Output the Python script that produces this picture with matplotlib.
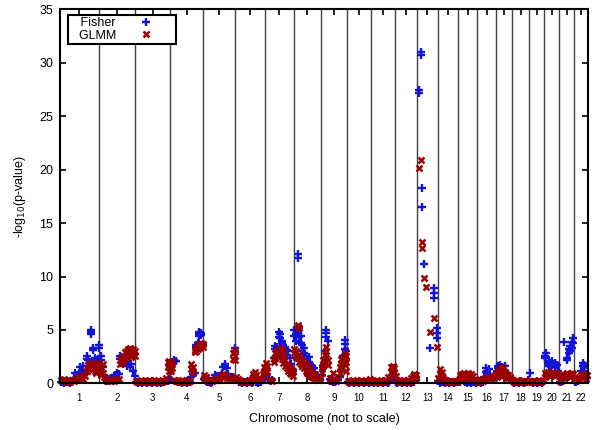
import matplotlib
matplotlib.use("Agg")
import matplotlib.pyplot as plt
import numpy as np

plt.rcParams['font.family'] = ['Liberation Sans', 'DejaVu Sans']

# Chromosome labels and their (not to scale) display widths
chromosomes = [str(i) for i in range(1, 23)]
chrom_widths = [38.7, 36.6, 34.7, 33.3, 32.0, 29.7, 28.7, 27.0, 26.3, 24.3, 23.7,
                21.7, 21.0, 20.3, 19.0, 19.0, 16.0, 17.0, 15.0, 15.0, 15.0, 14.0]

# -log10(p) values per chromosome, evenly spaced SNP slots
# (a slot may hold several values or None when empty)
N = None
fisher_vals = [
    # 1
    [0.1, 0.1, 0.0, 0.1, 0.2, 0.1, 0.0, 0.1, 0.5, 1.0, 0.8, 1.0, 1.5, 1.2, 1.6, 1.0,
     [2.6, 2.3], 2.2, 2.0, [4.6, 5.0, 4.8], [3.3, 3.1], 2.4, [2.2, 2.0], 1.8],
    # 2
    [[3.6, 3.3], [2.2, 2.6], 1.5, 0.8, 0.3, 0.2, 0.4, 0.5, 0.3, 0.6, 0.8, 1.0, 0.9,
     [2.6, 2.3], 2.0, 1.8, 2.2, 1.6, 2.0, 1.5, 1.8, 1.2, 0.7],
    # 3
    [0.1, 0.0, 0.1, 0.1, 0.0, 0.1, 0.1, 0.0, 0.1, 0.1, 0.0, 0.1, 0.1, 0.0, 0.1, 0.1,
     0.0, 0.1, 0.1, 0.2, 0.2, 0.4],
    # 4
    [0.3, 2.0, [2.2, 2.0], 2.1, 0.2, 0.1, 0.1, 0.0, 0.1, 0.1, 0.0, 0.1, 0.1, 0.6, 0.9,
     1.0, [3.4, 3.6], [3.8, 3.5], [4.6, 4.8, 4.4], [4.7, 4.5], 3.7],
    # 5
    [0.4, 0.2, 0.1, 0.1, 0.0, 0.1, 0.5, 0.8, 0.7, 0.3, 0.5, 1.0, 1.5, [1.8, 1.6], 1.4,
     0.9, 0.5, 0.3, 0.6, [3.3, 3.0]],
    # 6
    [0.4, 0.3, 0.1, 0.1, 0.0, 0.1, 0.1, 0.0, 0.1, 0.1, 0.0, 0.1, 0.3, 0.1, 0.0, 0.1,
     0.1, 0.4, 0.6],
    # 7
    [0.6, 0.9, 0.4, 0.2, 0.3, 2.4, [3.2, 3.5], [3.4, 3.0], [4.3, 4.8], [4.6, 4.2],
     [4.0, 3.8], [3.6, 3.2], [3.4, 2.9], [3.1, 2.7], 3.0, 2.4, 1.8, 1.2],
    # 8
    [[4.4, 5.0], [4.0, 4.6], [11.7, 12.1, 4.8], [4.3, 5.2], [3.8, 4.4], [3.6, 3.0],
     [3.3, 2.8], 2.6, 2.3, [2.5, 2.0], 1.8, 1.6, 1.4, 1.0, 0.8, 0.6, 0.4],
    # 9
    [0.8, 1.5, [2.4, 3.0], [4.3, 4.7, 5.0], 4.0, 0.4, 0.2, 0.1, 0.1, 0.2, 0.3, 0.6,
     1.2, [2.0, 2.6], [3.2, 3.7, 4.1], [3.0, 2.3]],
    # 10
    [0.1, 0.0, 0.1, 0.1, 0.0, 0.1, 0.1, 0.0, 0.1, 0.1, 0.0, 0.1, 0.1, 0.0, 0.1],
    # 11
    [0.1, 0.0, 0.1, 0.1, 0.0, 0.1, 0.1, 0.0, 0.1, 0.1, 0.0, 0.1, 0.3, 0.6, 0.8],
    # 12
    [0.1, 0.0, 0.1, 0.1, 0.0, 0.1, 0.1, 0.0, 0.1, 0.1, 0.0, 0.1, 0.1, 0.3],
    # 13
    [N, [27.2, 27.5], [30.7, 31.0], [18.3, 16.5], 11.2, N, N, N, 3.3, N,
     [8.0, 8.5, 8.9], N, [4.2, 4.7, 5.2]],
    # 14
    [0.2, 0.0, 0.1, 0.1, 0.0, 0.1, 0.1, 0.0, 0.1, 0.1, 0.0, 0.1, 0.1],
    # 15
    [0.1, 0.1, 0.3, 0.2, 0.1, 0.0, 0.1, 0.1, 0.0, 0.1, 0.1, 0.0],
    # 16
    [0.1, 0.1, 0.0, 0.1, 0.6, [1.4, 1.1], [1.2, 1.0], 1.3, 0.8, 0.4, 0.3, 0.6],
    # 17
    [1.2, [1.6, 1.4], [1.7, 1.5], 1.5, 1.3, 1.6, 1.0, 0.6, 0.4, 0.3],
    # 18
    [0.1, 0.0, 0.1, 0.1, 0.0, 0.1, 0.1, 0.0, 0.1, 0.1, 0.3],
    # 19
    [1.0, 0.1, 0.0, 0.1, 0.1, 0.0, 0.1, 0.1, 0.0, 0.1],
    # 20
    [[2.6, 2.4], [2.8, 2.5], 1.8, [2.0, 1.6], [1.9, 1.5], [2.1, 1.7], 1.8, [1.9, 1.5],
     1.7, 1.2],
    # 21
    [0.1, 0.1, 0.3, 3.9, 0.8, [2.4, 2.2], [2.8, 3.2], [3.5, 3.0], [3.9, 3.3], [4.2, 3.8]],
    # 22
    [0.1, 0.1, 0.2, 0.4, 1.2, [1.9, 1.6], [1.7, 1.4], 0.9, 0.5],
]

glmm_vals = [
    # 1
    [0.3, 0.2, 0.4, 0.2, 0.3, 0.1, 0.2, 0.3, 0.2, 0.4, 0.3, 0.6, 0.5, 0.8, 0.4, 0.7,
     1.2, [1.4, 1.7], [1.6, 1.8], [1.5, 1.9], [1.3, 1.7], 1.2, [1.0, 1.5], 1.8],
    # 2
    [[1.9, 1.2], [1.5, 0.8], [1.8, 1.0], 0.6, 0.3, 0.2, 0.3, 0.2, 0.3, 0.2, 0.4, 0.3,
     0.4, [1.8, 2.2], [2.5, 1.9], [2.6, 2.2], [2.9, 2.4], [3.0, 2.6], [3.2, 2.7],
     [3.3, 2.9], [3.1, 2.5], [3.2, 2.8], [3.0, 2.6]],
    # 3
    [0.2, 0.1, 0.2, 0.3, 0.1, 0.2, 0.2, 0.1, 0.3, 0.2, 0.1, 0.2, 0.2, 0.1, 0.3, 0.2,
     0.1, 0.2, 0.2, 0.5, [1.5, 2.0], [2.1, 1.7, 1.2]],
    # 4
    [[2.0, 1.5, 1.2], [1.8, 1.4], 0.3, 0.2, 0.2, 0.1, 0.2, 0.3, 0.1, 0.2, 0.2, 0.1,
     0.2, [1.8, 1.3], [1.5, 1.0], [3.1, 2.9], [3.3, 3.0], [3.5, 3.2], [3.6, 3.3],
     [3.8, 3.5], [3.7, 3.4]],
    # 5
    [[0.8, 0.5], [0.6, 0.4], 0.3, 0.2, 0.3, 0.2, 0.3, 0.4, 0.3, 0.4, 0.6, 0.8, 0.9,
     0.7, 0.5, 0.6, 0.4, 0.3, [2.3, 2.8], [3.1, 2.6, 2.2]],
    # 6
    [0.6, 0.4, 0.3, 0.2, 0.1, 0.2, 0.2, 0.1, 0.3, 0.2, 0.4, [0.9, 0.6], [1.1, 0.7],
     [0.8, 0.5], 0.4, 0.3, 0.3, 0.9, [1.5, 1.1]],
    # 7
    [[1.9, 1.4], [1.6, 1.1], 0.3, 0.3, 0.2, [2.3, 2.0], [2.8, 2.4], [3.1, 2.6],
     [3.0, 2.6], [2.8, 3.3], [2.7, 3.1, 2.3], [2.5, 2.9, 1.9], [2.2, 1.6], [1.4, 1.8],
     [1.2, 1.6], [1.0, 1.4], [0.9, 1.3], [0.7, 1.2]],
    # 8
    [[2.8, 3.2], [2.5, 3.0], [5.3, 5.5, 2.4], [5.2, 2.0, 2.7], [2.3, 1.8], [2.1, 1.6],
     [1.9, 1.4], [1.8, 1.2], [1.6, 1.0], [1.4, 0.9], [1.2, 0.7], [1.0, 0.6],
     [0.9, 0.5], 0.6, 0.4, 0.3, 0.5],
    # 9
    [[1.0, 1.5], [1.6, 2.2], [2.0, 2.7], [3.4, 3.0, 2.4], [2.2, 1.7], 0.5, 0.2, 1.0,
     0.3, 0.2, 0.6, [1.0, 1.5], [1.8, 2.3], [2.5, 2.0], [2.8, 2.3, 1.7], [2.6, 2.0, 1.2]],
    # 10
    [0.2, 0.1, 0.2, 0.3, 0.1, 0.2, 0.2, 0.1, 0.3, 0.2, 0.1, 0.2, 0.2, 0.3, 0.4],
    # 11
    [0.2, 0.1, 0.2, 0.3, 0.1, 0.2, 0.2, 0.1, 0.2, 0.3, 0.6, 0.5, [1.1, 1.5], [1.6, 1.2],
     [1.4, 1.0]],
    # 12
    [0.7, 0.3, 0.2, 0.1, 0.2, 0.3, 0.1, 0.2, 0.2, 0.1, 0.5, 0.7, [0.9, 0.6], [0.8, 0.5]],
    # 13
    [N, 20.2, 20.9, [13.2, 12.7], 9.9, 9.0, N, N, 4.8, N, 6.1, N, 3.4],
    # 14
    [0.5, [1.3, 0.9], [1.1, 0.7], 0.5, 0.3, 0.2, 0.1, 0.2, 0.2, 0.1, 0.2, 0.2, 0.1],
    # 15
    [0.3, [0.8, 0.5], [0.9, 0.6], [1.0, 0.7], [0.8, 0.5], [0.9, 0.6], [0.7, 1.0],
     [0.8, 0.5], [0.9, 0.6], 0.7, 0.4, 0.3],
    # 16
    [0.2, 0.1, 0.3, 0.2, 0.4, 0.5, 0.6, 0.5, 0.4, 0.6, 0.7, 0.8],
    # 17
    [[0.9, 0.6], [1.2, 0.8], [1.4, 1.0], [1.3, 0.9], [1.2, 0.8, 1.5], [1.1, 0.7],
     [0.9, 0.6], [0.8, 0.5], 0.6, 0.4],
    # 18
    [0.2, 0.1, 0.2, 0.3, 0.1, 0.2, 0.2, 0.1, 0.2, 0.2, 0.1],
    # 19
    [0.2, 0.1, 0.2, 0.2, 0.1, 0.2, 0.2, 0.1, 0.2, 0.3],
    # 20
    [[0.6, 1.0], [0.9, 0.7], [1.1, 0.8], 1.0, 0.9, 1.1, [0.8, 1.0], 0.7, 1.0, 0.8],
    # 21
    [0.2, 0.2, 0.6, 0.8, [0.9, 0.6], [0.8, 1.0], 0.7, [0.9, 0.6], [0.8, 1.0], 0.9],
    # 22
    [0.3, 0.5, 0.3, 0.6, 0.8, 0.5, 0.9, [0.7, 0.4], 0.8],
]

series_names = ['Fisher', 'GLMM']
y_ticks = [0, 5, 10, 15, 20, 25, 30, 35]

# ---------------------------------------------------------------------------
starts = np.concatenate([[0.0], np.cumsum(chrom_widths)[:-1]])
ends = np.cumsum(chrom_widths)
centers = (starts + ends) / 2.0


def flatten(series):
    xs, ys = [], []
    for c, slots in enumerate(series):
        n = len(slots)
        for i, v in enumerate(slots):
            if v is None:
                continue
            pos = starts[c] + (i + 0.5) * chrom_widths[c] / n
            vals = v if isinstance(v, list) else [v]
            for val in vals:
                xs.append(pos)
                ys.append(val)
    return np.array(xs), np.array(ys)


fx, fy = flatten(fisher_vals)
gx, gy = flatten(glmm_vals)

fig = plt.figure(figsize=(6.0, 4.3), dpi=100)
ax = fig.add_axes([0.10, 0.1085, 0.88, 0.8695])

for b in ends[:-1]:
    ax.axvline(b, color='#404040', lw=1.0, zorder=1)

blue = '#1414d8'
red = '#990000'
ax.plot(fx, fy, linestyle='none', marker='+', ms=5.8, mew=1.7, color=blue,
        label='   ' + series_names[0], zorder=3, clip_on=False)
ax.plot(gx, gy, linestyle='none', marker='x', ms=4.8, mew=1.8, color=red,
        label='  ' + series_names[1], zorder=4, clip_on=False)

ax.set_xlim(0, ends[-1])
ax.set_ylim(0, 35)
ax.set_xticks(centers)
ax.set_xticklabels(chromosomes, fontsize=7)
ax.set_yticks(y_ticks)
ax.set_yticklabels([str(t) for t in y_ticks], fontsize=9)
ax.tick_params(axis='x', direction='in', top=True, bottom=True, length=4,
               width=1.2, pad=7)
ax.tick_params(axis='y', direction='in', left=True, right=True, length=4,
               width=1.2, pad=5)
for s in ax.spines.values():
    s.set_linewidth(1.5)
    s.set_zorder(5)

ax.set_xlabel('Chromosome (not to scale)', fontsize=9, labelpad=7)
ax.set_ylabel('-log$_{10}$(p-value)', fontsize=9, labelpad=8)

leg = ax.legend(loc='upper left', bbox_to_anchor=(0.015, 0.986), markerfirst=False,
                fontsize=9, frameon=True, fancybox=False, framealpha=1,
                edgecolor='black', handlelength=4.4, handletextpad=0.2,
                borderpad=0.2, labelspacing=0.05, borderaxespad=0)
leg.get_frame().set_linewidth(1.5)
leg.set_zorder(10)

fig.savefig('out.png', dpi=100)
